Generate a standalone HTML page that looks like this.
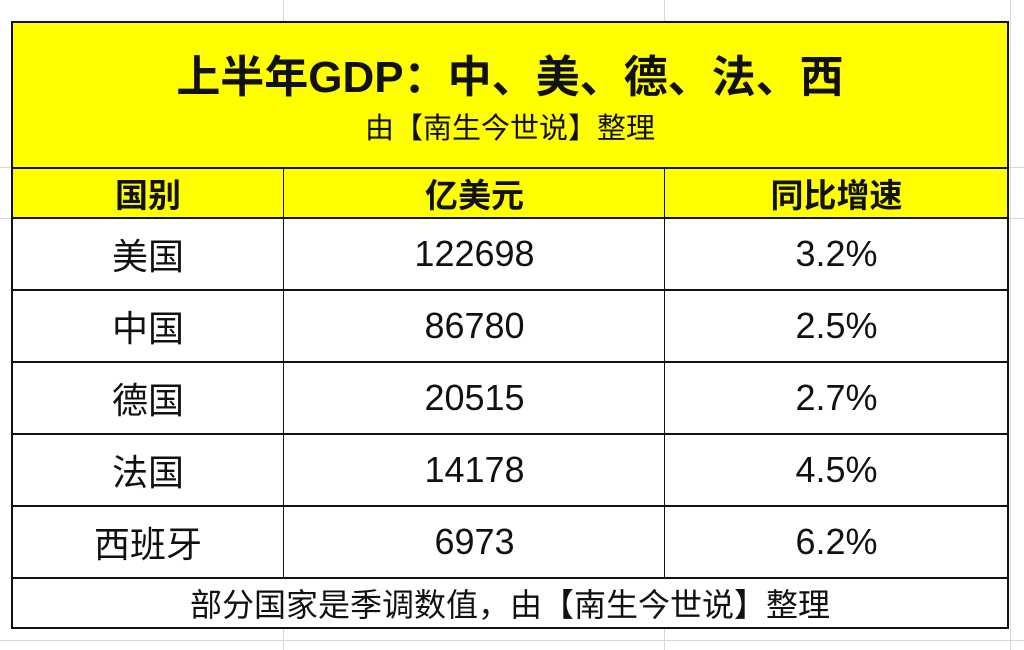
<!DOCTYPE html>
<html><head><meta charset="utf-8"><style>
body{margin:0;width:1024px;height:650px;background:#fff;position:relative;overflow:hidden;font-family:"Liberation Sans","Noto Sans CJK SC",sans-serif;color:#111}
.g{position:absolute;background:#d8d8d8}
.c{position:absolute;display:flex;align-items:center;justify-content:center;box-sizing:border-box;white-space:nowrap}
.l{position:absolute;background:#111}
.r{font-size:36px}
</style></head><body>
<div class="g" style="left:283px;top:0;width:1px;height:22px"></div>
<div class="g" style="left:664px;top:0;width:1px;height:22px"></div>
<div class="g" style="left:0;top:167px;width:12px;height:1px"></div>
<div class="g" style="left:0;top:218px;width:12px;height:1px"></div>
<div class="g" style="left:1008px;top:218px;width:16px;height:1px"></div>
<div class="g" style="left:1008px;top:167px;width:16px;height:1px"></div>
<div class="g" style="left:283px;top:628px;width:1px;height:22px"></div>
<div class="g" style="left:664px;top:628px;width:1px;height:22px"></div>
<div class="g" style="left:1010px;top:0;width:1px;height:650px"></div>
<div class="g" style="left:0;top:640px;width:1024px;height:1px"></div>

<div style="position:absolute;left:12px;top:22px;width:996px;height:196px;background:#ffff00"></div>
<div class="c" style="left:12px;top:40px;width:996px;height:66px;font-size:44px;font-weight:bold">上半年GDP：中、美、德、法、西</div>
<div class="c" style="left:12px;top:106px;width:996px;height:40px;font-size:29px">由【南生今世说】整理</div>

<div class="c" style="left:12px;top:168px;width:272px;height:50px;font-size:33px;font-weight:bold">国别</div>
<div class="c" style="left:284px;top:168px;width:381px;height:50px;font-size:33px;font-weight:bold">亿美元</div>
<div class="c" style="left:665px;top:168px;width:343px;height:50px;font-size:33px;font-weight:bold">同比增速</div>

<div class="c r" style="left:12px;top:218px;width:272px;height:72px">美国</div>
<div class="c r" style="left:284px;top:218px;width:381px;height:72px">122698</div>
<div class="c r" style="left:665px;top:218px;width:343px;height:72px">3.2%</div>
<div class="c r" style="left:12px;top:290px;width:272px;height:72px">中国</div>
<div class="c r" style="left:284px;top:290px;width:381px;height:72px">86780</div>
<div class="c r" style="left:665px;top:290px;width:343px;height:72px">2.5%</div>
<div class="c r" style="left:12px;top:362px;width:272px;height:72px">德国</div>
<div class="c r" style="left:284px;top:362px;width:381px;height:72px">20515</div>
<div class="c r" style="left:665px;top:362px;width:343px;height:72px">2.7%</div>
<div class="c r" style="left:12px;top:434px;width:272px;height:72px">法国</div>
<div class="c r" style="left:284px;top:434px;width:381px;height:72px">14178</div>
<div class="c r" style="left:665px;top:434px;width:343px;height:72px">4.5%</div>
<div class="c r" style="left:12px;top:506px;width:272px;height:72px">西班牙</div>
<div class="c r" style="left:284px;top:506px;width:381px;height:72px">6973</div>
<div class="c r" style="left:665px;top:506px;width:343px;height:72px">6.2%</div>
<div class="c" style="left:12px;top:578px;width:996px;height:50px;font-size:32px">部分国家是季调数值，由【南生今世说】整理</div>

<div class="l" style="left:11px;top:21px;width:998px;height:2px"></div>
<div class="l" style="left:11px;top:167px;width:998px;height:2px"></div>
<div class="l" style="left:11px;top:217px;width:998px;height:2px"></div>
<div class="l" style="left:11px;top:289px;width:998px;height:2px"></div>
<div class="l" style="left:11px;top:361px;width:998px;height:2px"></div>
<div class="l" style="left:11px;top:433px;width:998px;height:2px"></div>
<div class="l" style="left:11px;top:505px;width:998px;height:2px"></div>
<div class="l" style="left:11px;top:577px;width:998px;height:2px"></div>
<div class="l" style="left:11px;top:627px;width:998px;height:2px"></div>
<div class="l" style="left:11px;top:21px;width:2px;height:608px"></div>
<div class="l" style="left:1007px;top:21px;width:2px;height:608px"></div>
<div class="l" style="left:283px;top:167px;width:1px;height:411px"></div>
<div class="l" style="left:664px;top:167px;width:1px;height:411px"></div>
</body></html>
